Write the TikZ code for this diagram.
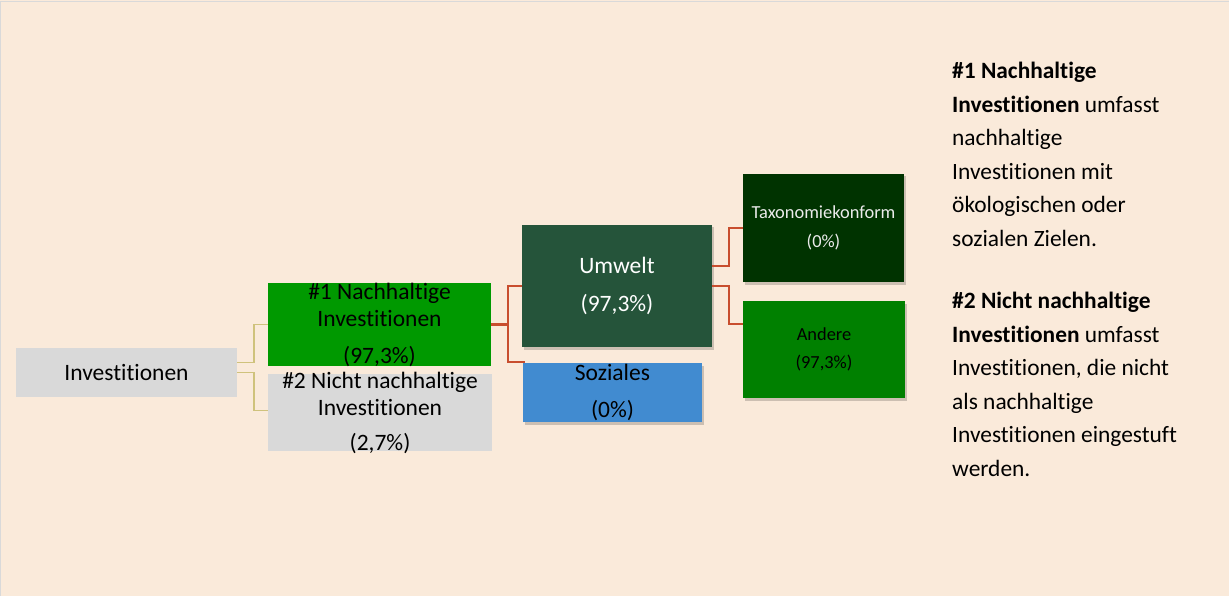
\documentclass[tikz,border=0pt]{standalone}
\usepackage{fontspec}
\setmainfont{Carlito}[Ligatures=NoCommon]
\usepackage{xcolor}
\usepackage{tikz}
\usetikzlibrary{calc, shadows}
\definecolor{bgpeach}{HTML}{FAEADA}
\definecolor{boxgray}{HTML}{D9D9D9}
\definecolor{nhgreen}{HTML}{009900}
\definecolor{uwgreen}{HTML}{25543A}
\definecolor{taxgreen}{HTML}{003300}
\definecolor{andgreen}{HTML}{008000}
\definecolor{sozblue}{HTML}{418BD0}
\definecolor{lineyellow}{HTML}{CFC27C}
\definecolor{linered}{HTML}{C84E2E}
\tikzset{
    cell/.style = {rectangle, inner sep=0pt, outer sep=0pt},
    scell/.style = {cell, drop shadow={shadow xshift=2pt, shadow yshift=-2.5pt, opacity=.18, fill=black}},
    bigtxt/.style = {align=center, font=\fontsize{23.5}{27}\selectfont},
    smalltxt/.style = {align=center, font=\fontsize{18.4}{28.5}\selectfont},
    yline/.style = {draw=lineyellow, line width=1.9pt},
    rline/.style = {draw=linered, line width=2pt},
}
\begin{document}
\begin{tikzpicture}[x=1pt, y=-1pt]
\useasboundingbox (0,0) rectangle (1229,596);
\fill[bgpeach] (0,0) rectangle (1229,596);
\draw[gray!30, line width=0.8pt] (0.4,596) -- (0.4,1.5) -- (1229,1.5);

\node[cell, fill=boxgray, minimum width=221pt, minimum height=49pt] (inv) at (126.5,372.5) {};
\node[bigtxt] at (inv) {Investitionen};

\node[cell, fill=nhgreen, minimum width=223pt, minimum height=83pt] (nh) at (379.5,324.5) {};
\node[bigtxt] at (nh) {\#1 Nachhaltige\\Investitionen\\[10pt](97,3\%)};

\node[cell, fill=boxgray, minimum width=224pt, minimum height=77pt] (nnh) at ($(nh.south)+(0.5,46.5)$) {};
\node[bigtxt] at (nnh) {\#2 Nicht nachhaltige\\Investitionen\\[8pt](2,7\%)};

\node[scell, fill=uwgreen, minimum width=190pt, minimum height=122pt] (uw) at (617,286) {};
\node[bigtxt, text=white] at (uw) {Umwelt\\[11pt](97,3\%)};

\node[scell, fill=sozblue, minimum width=179pt, minimum height=59pt] (soz) at ($(uw.south)+(-4.5,45.5)$) {};
\node[bigtxt] at (soz) {Soziales\\[10pt](0\%)};

\node[scell, fill=taxgreen, minimum width=161pt, minimum height=108pt] (tax) at (823.5,228) {};
\node[smalltxt, text=white!92!black] at (tax) {Taxonomiekonform\\(0\%)};

\node[scell, fill=andgreen, minimum width=162pt, minimum height=97pt] (and) at ($(tax.south)+(0.5,67.5)$) {};
\node[smalltxt] at (and) {Andere\\(97,3\%)};

\draw[yline] ($(inv.east)+(0,-10)$) -| ($(nh.west)+(-14,0)$) -- (nh.west);
\draw[yline] (inv.east) -| ($(nnh.west)+(-14,-2)$) -- ($(nnh.west)+(0,-2)$);

\draw[rline, line width=3pt] (nh.east) -- ($(nh.east)+(17,0)$);
\draw[rline] (uw.west) -| ($(soz.north west)+(-15,-1)$) -- ($(soz.north west)+(2,-1)$);

\draw[rline] ($(uw.east)+(0,-20)$) -| ($(tax.west)+(-14,0)$) -- (tax.west);
\draw[rline] (uw.east) -| ($(and.north west)+(-14,23)$) -- ($(and.north west)+(0,23)$);

\node[anchor=north west, align=left, inner sep=0pt, font=\fontsize{23.4}{33.5}\selectfont] (note) at (952,62) {%
\textbf{\#1 Nachhaltige}\\
\textbf{Investitionen} umfasst\\
nachhaltige\\
Investitionen mit\\
ökologischen oder\\
sozialen Zielen.\\[29pt]
\textbf{\#2 Nicht nachhaltige}\\
\textbf{Investitionen} umfasst\\
Investitionen, die nicht\\
als nachhaltige\\
Investitionen eingestuft\\
werden.};
\end{tikzpicture}
\end{document}
